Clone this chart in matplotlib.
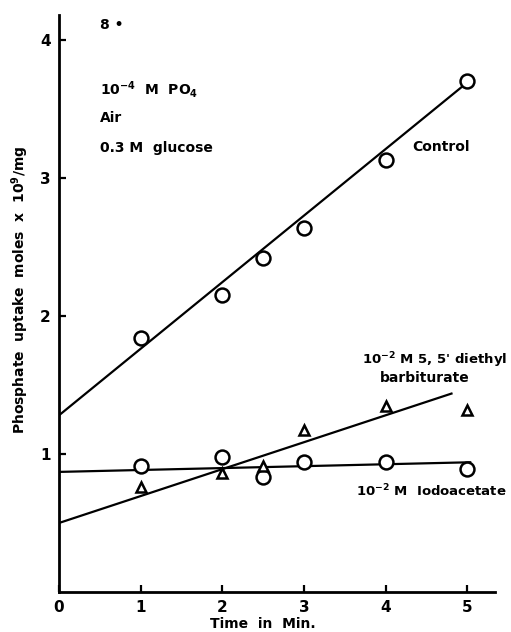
import numpy as np
from matplotlib import pyplot as plt

# данные
time_control = [1, 2, 2.5, 3, 4, 5]
uptake_control = [1.84, 2.15, 2.42, 2.64, 3.13, 3.70]

time_iodo = [1, 2, 2.5, 3, 4, 5]
uptake_iodo = [0.91, 0.98, 0.83, 0.94, 0.94, 0.89]

time_barb = [1, 2, 2.5, 3, 4, 5]
uptake_barb = [0.76, 0.86, 0.91, 1.17, 1.35, 1.32]

# проведённые от руки прямые: ([x начала, x конца], [y начала, y конца])
fit_control = ([0, 5.06], [1.28, 3.72])
fit_iodo = ([0, 5.05], [0.87, 0.94])
fit_barb = ([0, 4.82], [0.50, 1.44])

x_ticks = [0, 1, 2, 3, 4, 5]
y_ticks = [1, 2, 3, 4]

W, H = 511, 632


def fx(px):
    return px / W


def fy(py):
    return 1 - py / H


def main() -> None:
    plt.rcParams['font.family'] = 'DejaVu Sans'
    plt.rcParams['font.weight'] = 'bold'

    fig = plt.figure(figsize=(W / 100, H / 100), dpi=100)
    ax = fig.add_axes([fx(59), fy(592), fx(495) - fx(59), fy(15) - fy(592)])

    lw = 1.6
    for xs, ys in (fit_control, fit_iodo, fit_barb):
        ax.plot(xs, ys, color="black", lw=lw, solid_capstyle="butt")

    ax.plot(time_control, uptake_control, "o", ms=10, mfc="white", mec="black", mew=1.8)
    ax.plot(time_iodo, uptake_iodo, "o", ms=10, mfc="white", mec="black", mew=1.8)
    ax.plot(time_barb, uptake_barb, "^", ms=6.5, mfc="white", mec="black", mew=1.8)

    ax.set_xlim(0, 5.34)
    ax.set_ylim(0, 4.18)
    ax.set_xticks(x_ticks)
    ax.set_yticks(y_ticks)
    ax.set_xticklabels([str(t) for t in x_ticks], fontsize=11, fontweight="bold")
    ax.set_yticklabels([str(t) for t in y_ticks], fontsize=11, fontweight="bold")
    ax.tick_params(direction="in", length=5, width=1.6, pad=6)

    for s in ("top", "right"):
        ax.spines[s].set_visible(False)
    for s in ("left", "bottom"):
        ax.spines[s].set_linewidth(2)

    # подписи
    fs = 10
    fig.text(fx(100), fy(25), "8 •", fontsize=fs, va="center")
    fig.text(fx(100), fy(89), r"10$^{-4}$  M  PO$_4$", fontsize=fs, va="center")
    fig.text(fx(100), fy(118), "Air", fontsize=fs, va="center")
    fig.text(fx(100), fy(148), "0.3 M  glucose", fontsize=fs, va="center")
    fig.text(fx(412), fy(147), "Control", fontsize=fs, va="center")
    fig.text(fx(507), fy(360), r"10$^{-2}$ M 5, 5' diethyl", fontsize=9.5,
             ha="right", va="center")
    fig.text(fx(380), fy(378), "barbiturate", fontsize=fs, va="center")
    fig.text(fx(507), fy(491), r"10$^{-2}$ M  Iodoacetate", fontsize=9.5,
             ha="right", va="center")
    fig.text(fx(263), fy(624), "Time  in  Min.", fontsize=fs, ha="center", va="center")
    fig.text(fx(20), fy(290), r"Phosphate  uptake  moles  x  10$^{9}$/mg", fontsize=fs,
             rotation=90, ha="center", va="center")

    fig.savefig("out.png", dpi=100)


if __name__ == '__main__':
    main()
